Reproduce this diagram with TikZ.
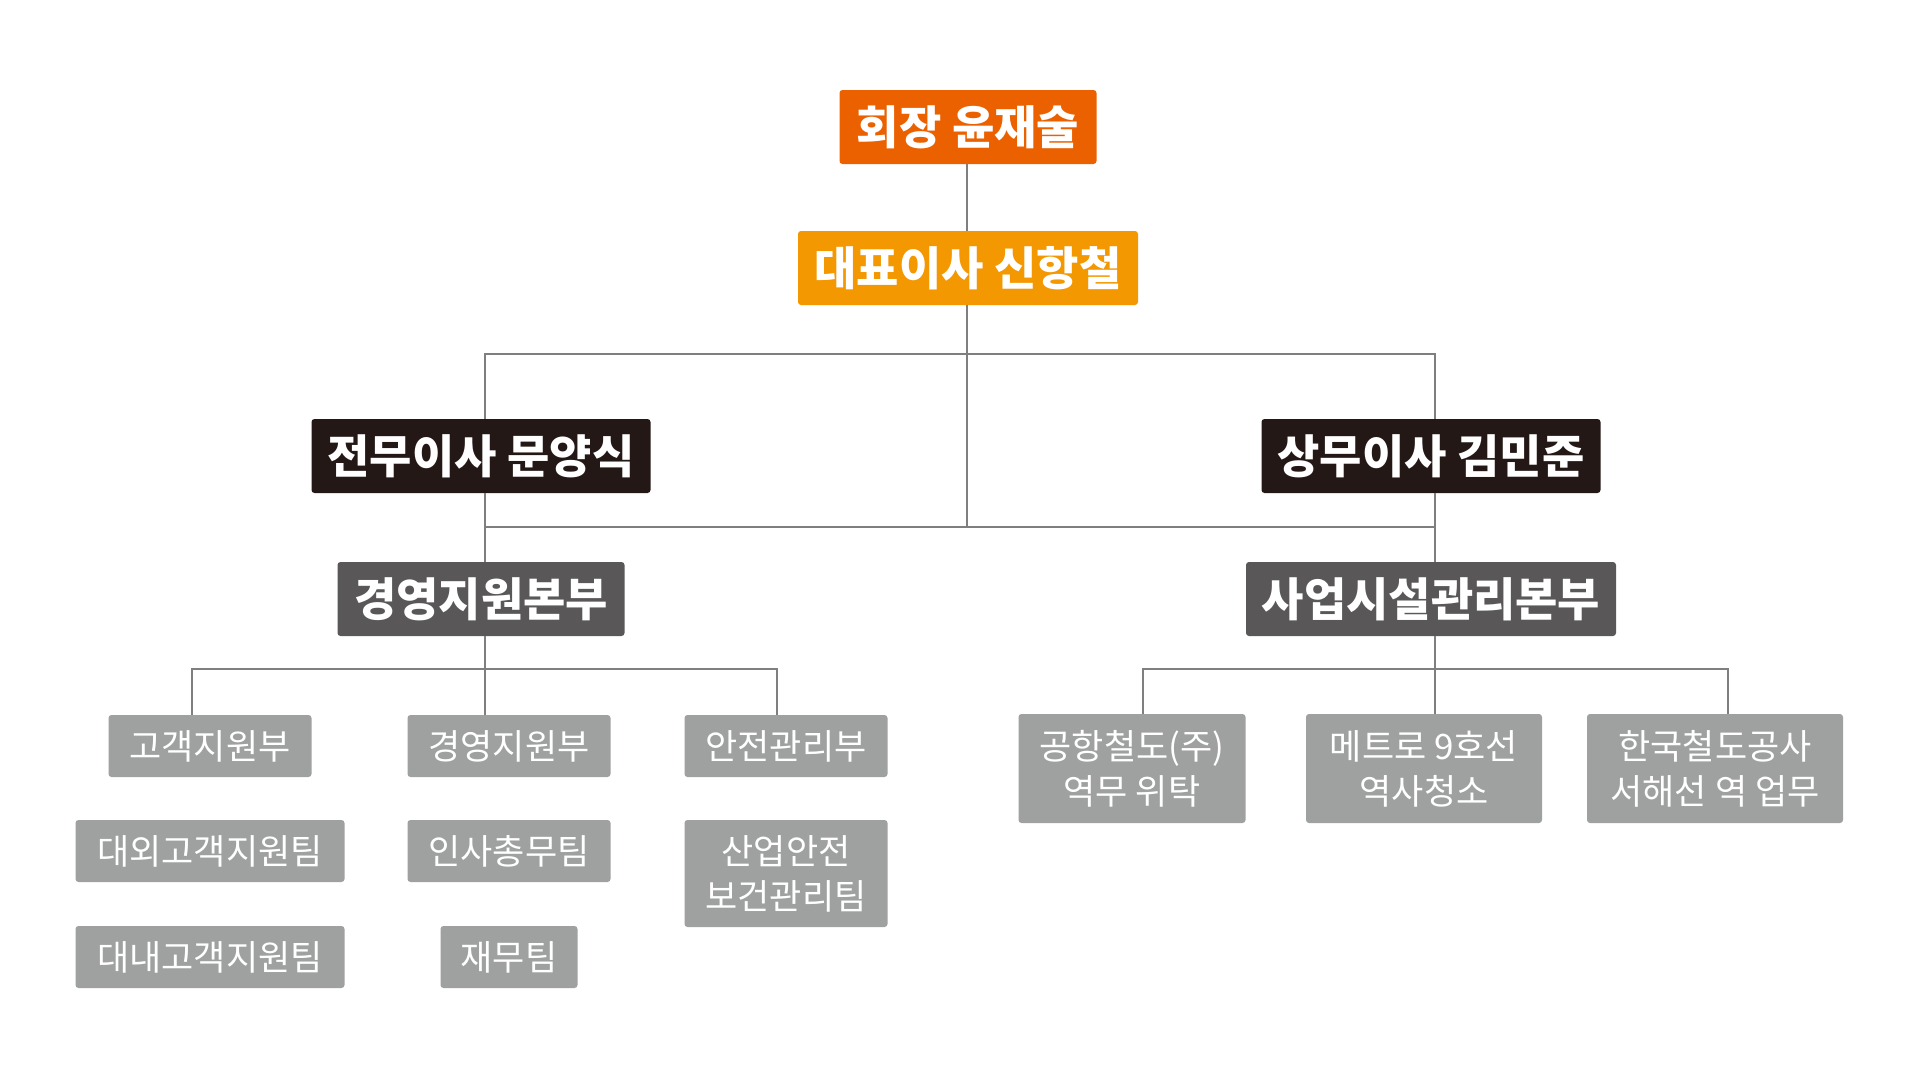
\documentclass[tikz,border=0pt]{standalone}
\usepackage{fontspec}
\newfontfamily\kfont{Noto Sans CJK KR}
\definecolor{chairorange}{HTML}{EB6100}
\definecolor{ceoorange}{HTML}{F39800}
\definecolor{execblack}{HTML}{231815}
\definecolor{hqgray}{HTML}{595757}
\definecolor{deptgray}{HTML}{9FA0A0}
\definecolor{linkgray}{HTML}{7F7F7F}
\tikzset{
  box/.style={rounded corners=1.5pt, inner sep=0pt, align=center, text=white},
  topbox/.style={box, minimum height=37pt, font=\kfont\bfseries\fontsize{23}{28}\selectfont},
  chair/.style={topbox, fill=chairorange, minimum width=128.5pt},
  ceo/.style={topbox, fill=ceoorange, minimum width=170pt},
  exec/.style={topbox, fill=execblack, minimum width=169.5pt},
  hq/.style={topbox, fill=hqgray},
  dept/.style={box, fill=deptgray, minimum width=101.5pt, minimum height=31pt,
    font=\kfont\fontsize{17.5}{22.5}\selectfont},
  link/.style={draw=linkgray, line width=1.1pt}
}
\begin{document}
\begin{tikzpicture}[x=0.5pt,y=-0.5pt]
    \useasboundingbox (0,0) rectangle (1919,1077);
    % top
    \node[chair](chair) at (968,127) {회장 윤재술};
    \node[ceo](ceo) at (968,268) {대표이사 신항철};
    \node[exec](jeonmu) at (481,456) {전무이사 문양식};
    \node[exec](sangmu) at (1431,456) {상무이사 김민준};
    \node[hq,minimum width=143.5pt](gyeong) at (481,599) {경영지원본부};
    \node[hq,minimum width=185pt](saeop) at (1431,599) {사업시설관리본부};
    % left group
    \node[dept](gogaek) at (210,746) {고객지원부};
    \node[dept](gyeongbu) at (509,746) {경영지원부};
    \node[dept](anjeon) at (786,746) {안전관리부};
    \node[dept,minimum width=134.5pt](daeoe) at (210,851) {대외고객지원팀};
    \node[dept](insa) at (509,851) {인사총무팀};
    \node[dept,minimum height=53.5pt](saneop) at (786,873.5) {산업안전\\보건관리팀};
    \node[dept,minimum width=134.5pt](daenae) at (210,957) {대내고객지원팀};
    \node[dept,minimum width=68.5pt](jaemu) at (509,957) {재무팀};
    % right group
    \node[dept,minimum width=113.5pt,minimum height=54.5pt](gonghang) at (1132,768.5) {공항철도(주)\\역무 위탁};
    \node[dept,minimum width=118pt,minimum height=54.5pt](metro) at (1424,768.5) {메트로 9호선\\역사청소};
    \node[dept,minimum width=128pt,minimum height=54.5pt](korail) at (1715,768.5) {한국철도공사\\서해선 역 업무};
    % junctions
    \coordinate (top) at (967,354);
    \coordinate (mid) at (967,527);
    \coordinate (lefttrunk) at (485,0);
    \coordinate (righttrunk) at (1435,0);
    \coordinate (left1) at (192,669);
    \coordinate (left3) at (777,669);
    \coordinate (right1) at (1143,669);
    \coordinate (right3) at (1728,669);
    \draw[link] (chair.south -| top)--(ceo.north -| top);
    \draw[link] (ceo.south -| top)--(mid);
    \draw[link] (jeonmu.north -| lefttrunk)|-(top)-|(sangmu.north -| righttrunk);
    \draw[link] (jeonmu.south -| lefttrunk)--(gyeong.north -| lefttrunk);
    \draw[link] (sangmu.south -| righttrunk)--(saeop.north -| righttrunk);
    \draw[link] (mid -| lefttrunk)--(mid -| righttrunk);
    \draw[link] (gogaek.north -| left1)--(left1)--(left3)--(anjeon.north -| left3);
    \draw[link] (gyeong.south -| lefttrunk)--(gyeongbu.north -| lefttrunk);
    \draw[link] (gonghang.north -| right1)--(right1)--(right3)--(korail.north -| right3);
    \draw[link] (saeop.south -| righttrunk)--(metro.north -| righttrunk);
\end{tikzpicture}
\end{document}
